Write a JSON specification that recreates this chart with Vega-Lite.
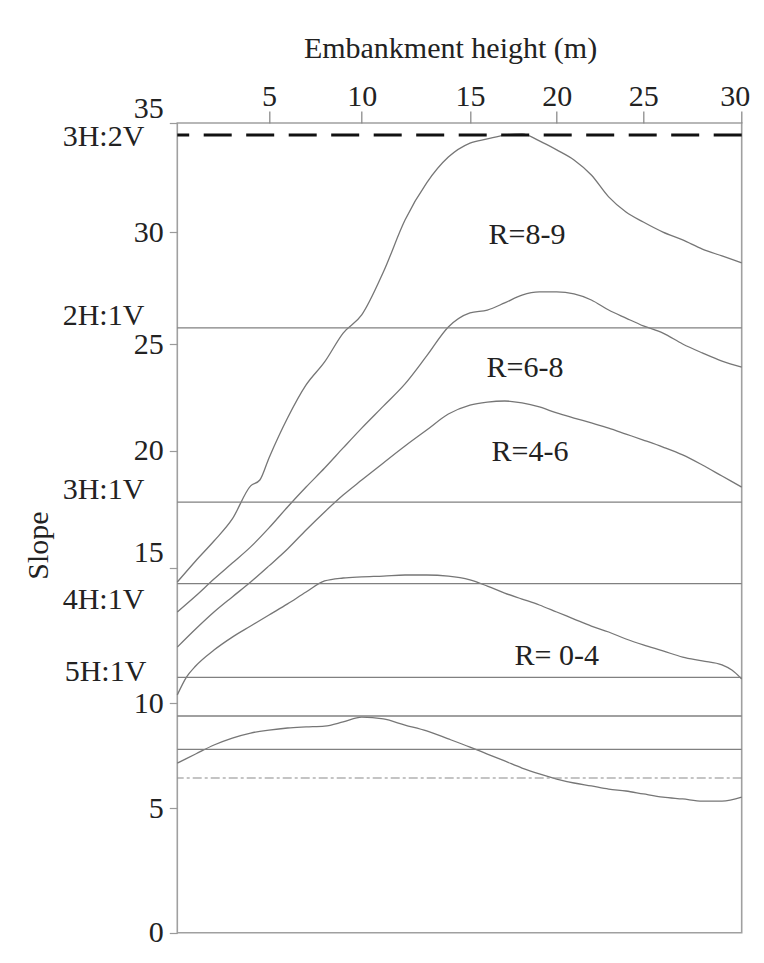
{
  "$schema": "https://vega.github.io/schema/vega-lite/v6.json",
  "width": 564.4,
  "height": 809.7,
  "autosize": "none",
  "padding": {"left": 177.3, "top": 123, "right": 22.3, "bottom": 30.3},
  "background": "white",
  "config": {
    "font": "Liberation Serif",
    "view": {"stroke": "#a0a0a0", "strokeWidth": 1.6}
  },
  "datasets": {
    "boundaries": [
      {"boundary": "R=9", "height": 0, "slope": 14.48}, {"boundary": "R=9", "height": 1, "slope": 15.30},
      {"boundary": "R=9", "height": 2, "slope": 16.15}, {"boundary": "R=9", "height": 3, "slope": 17.09},
      {"boundary": "R=9", "height": 4, "slope": 18.50}, {"boundary": "R=9", "height": 4.5, "slope": 18.75},
      {"boundary": "R=9", "height": 5, "slope": 19.69}, {"boundary": "R=9", "height": 6, "slope": 21.53},
      {"boundary": "R=9", "height": 7, "slope": 23.08}, {"boundary": "R=9", "height": 8, "slope": 24.16},
      {"boundary": "R=9", "height": 9, "slope": 25.49}, {"boundary": "R=9", "height": 10, "slope": 26.30},
      {"boundary": "R=9", "height": 11, "slope": 28.22}, {"boundary": "R=9", "height": 12, "slope": 30.56},
      {"boundary": "R=9", "height": 13, "slope": 32.26}, {"boundary": "R=9", "height": 14, "slope": 33.44},
      {"boundary": "R=9", "height": 15, "slope": 34.08}, {"boundary": "R=9", "height": 16, "slope": 34.27},
      {"boundary": "R=9", "height": 17, "slope": 34.45}, {"boundary": "R=9", "height": 18, "slope": 34.50},
      {"boundary": "R=9", "height": 19, "slope": 34.18}, {"boundary": "R=9", "height": 20, "slope": 33.77},
      {"boundary": "R=9", "height": 21, "slope": 33.31}, {"boundary": "R=9", "height": 22, "slope": 32.62},
      {"boundary": "R=9", "height": 23, "slope": 31.62}, {"boundary": "R=9", "height": 24, "slope": 30.93},
      {"boundary": "R=9", "height": 25, "slope": 30.47}, {"boundary": "R=9", "height": 26, "slope": 30.01},
      {"boundary": "R=9", "height": 27, "slope": 29.66}, {"boundary": "R=9", "height": 28, "slope": 29.25},
      {"boundary": "R=9", "height": 29, "slope": 28.94}, {"boundary": "R=9", "height": 30, "slope": 28.63},

      {"boundary": "R=8", "height": 0, "slope": 13.37}, {"boundary": "R=8", "height": 1, "slope": 13.96},
      {"boundary": "R=8", "height": 2, "slope": 14.59}, {"boundary": "R=8", "height": 3, "slope": 15.21},
      {"boundary": "R=8", "height": 4, "slope": 15.90}, {"boundary": "R=8", "height": 5, "slope": 16.71},
      {"boundary": "R=8", "height": 6, "slope": 17.60}, {"boundary": "R=8", "height": 7, "slope": 18.45},
      {"boundary": "R=8", "height": 8, "slope": 19.26}, {"boundary": "R=8", "height": 9, "slope": 20.13},
      {"boundary": "R=8", "height": 10, "slope": 21.06}, {"boundary": "R=8", "height": 11, "slope": 22.09},
      {"boundary": "R=8", "height": 12, "slope": 23.13}, {"boundary": "R=8", "height": 13, "slope": 24.44},
      {"boundary": "R=8", "height": 14, "slope": 25.76}, {"boundary": "R=8", "height": 15, "slope": 26.39},
      {"boundary": "R=8", "height": 16, "slope": 26.52}, {"boundary": "R=8", "height": 17, "slope": 26.84},
      {"boundary": "R=8", "height": 18, "slope": 27.19}, {"boundary": "R=8", "height": 19, "slope": 27.33},
      {"boundary": "R=8", "height": 20, "slope": 27.33}, {"boundary": "R=8", "height": 21, "slope": 27.24},
      {"boundary": "R=8", "height": 22, "slope": 26.97}, {"boundary": "R=8", "height": 23, "slope": 26.52},
      {"boundary": "R=8", "height": 24, "slope": 26.16}, {"boundary": "R=8", "height": 25, "slope": 25.81},
      {"boundary": "R=8", "height": 26, "slope": 25.49}, {"boundary": "R=8", "height": 27, "slope": 25.00},
      {"boundary": "R=8", "height": 28, "slope": 24.58}, {"boundary": "R=8", "height": 29, "slope": 24.20},
      {"boundary": "R=8", "height": 30, "slope": 23.92},

      {"boundary": "R=6", "height": 0, "slope": 12.07}, {"boundary": "R=6", "height": 1, "slope": 12.74},
      {"boundary": "R=6", "height": 2, "slope": 13.37}, {"boundary": "R=6", "height": 3, "slope": 13.93},
      {"boundary": "R=6", "height": 4, "slope": 14.48}, {"boundary": "R=6", "height": 5, "slope": 15.09},
      {"boundary": "R=6", "height": 6, "slope": 15.81}, {"boundary": "R=6", "height": 7, "slope": 16.62},
      {"boundary": "R=6", "height": 8, "slope": 17.39}, {"boundary": "R=6", "height": 9, "slope": 18.11},
      {"boundary": "R=6", "height": 10, "slope": 18.75}, {"boundary": "R=6", "height": 11, "slope": 19.48},
      {"boundary": "R=6", "height": 12, "slope": 20.22}, {"boundary": "R=6", "height": 13, "slope": 20.97},
      {"boundary": "R=6", "height": 14, "slope": 21.72}, {"boundary": "R=6", "height": 15, "slope": 22.14},
      {"boundary": "R=6", "height": 16, "slope": 22.28}, {"boundary": "R=6", "height": 17, "slope": 22.33},
      {"boundary": "R=6", "height": 18, "slope": 22.24}, {"boundary": "R=6", "height": 19, "slope": 22.05},
      {"boundary": "R=6", "height": 20, "slope": 21.77}, {"boundary": "R=6", "height": 21, "slope": 21.53},
      {"boundary": "R=6", "height": 22, "slope": 21.30}, {"boundary": "R=6", "height": 23, "slope": 21.06},
      {"boundary": "R=6", "height": 24, "slope": 20.78}, {"boundary": "R=6", "height": 25, "slope": 20.50},
      {"boundary": "R=6", "height": 26, "slope": 20.17}, {"boundary": "R=6", "height": 27, "slope": 19.82},
      {"boundary": "R=6", "height": 28, "slope": 19.39}, {"boundary": "R=6", "height": 29, "slope": 18.92},
      {"boundary": "R=6", "height": 30, "slope": 18.45},

      {"boundary": "R=4", "height": 0, "slope": 10.30}, {"boundary": "R=4", "height": 0.5, "slope": 10.96},
      {"boundary": "R=4", "height": 1, "slope": 11.37}, {"boundary": "R=4", "height": 2, "slope": 11.96},
      {"boundary": "R=4", "height": 3, "slope": 12.44}, {"boundary": "R=4", "height": 4, "slope": 12.85},
      {"boundary": "R=4", "height": 5, "slope": 13.26}, {"boundary": "R=4", "height": 6, "slope": 13.67},
      {"boundary": "R=4", "height": 7, "slope": 14.11}, {"boundary": "R=4", "height": 8, "slope": 14.52},
      {"boundary": "R=4", "height": 9, "slope": 14.63}, {"boundary": "R=4", "height": 10, "slope": 14.67},
      {"boundary": "R=4", "height": 11, "slope": 14.70}, {"boundary": "R=4", "height": 12, "slope": 14.74},
      {"boundary": "R=4", "height": 13, "slope": 14.74}, {"boundary": "R=4", "height": 14, "slope": 14.70},
      {"boundary": "R=4", "height": 15, "slope": 14.56}, {"boundary": "R=4", "height": 16, "slope": 14.33},
      {"boundary": "R=4", "height": 17, "slope": 14.07}, {"boundary": "R=4", "height": 18, "slope": 13.85},
      {"boundary": "R=4", "height": 19, "slope": 13.63}, {"boundary": "R=4", "height": 20, "slope": 13.37},
      {"boundary": "R=4", "height": 21, "slope": 13.11}, {"boundary": "R=4", "height": 22, "slope": 12.85},
      {"boundary": "R=4", "height": 23, "slope": 12.63}, {"boundary": "R=4", "height": 24, "slope": 12.37},
      {"boundary": "R=4", "height": 25, "slope": 12.15}, {"boundary": "R=4", "height": 26, "slope": 11.93},
      {"boundary": "R=4", "height": 27, "slope": 11.70}, {"boundary": "R=4", "height": 28, "slope": 11.56},
      {"boundary": "R=4", "height": 29, "slope": 11.41}, {"boundary": "R=4", "height": 29.5, "slope": 11.22},
      {"boundary": "R=4", "height": 30, "slope": 10.89},

      {"boundary": "R=0", "height": 0, "slope": 7.14}, {"boundary": "R=0", "height": 1, "slope": 7.57},
      {"boundary": "R=0", "height": 2, "slope": 8.00}, {"boundary": "R=0", "height": 3, "slope": 8.33},
      {"boundary": "R=0", "height": 4, "slope": 8.57}, {"boundary": "R=0", "height": 5, "slope": 8.71},
      {"boundary": "R=0", "height": 6, "slope": 8.81}, {"boundary": "R=0", "height": 7, "slope": 8.86},
      {"boundary": "R=0", "height": 8, "slope": 8.90}, {"boundary": "R=0", "height": 9, "slope": 9.10},
      {"boundary": "R=0", "height": 10, "slope": 9.33}, {"boundary": "R=0", "height": 11, "slope": 9.24},
      {"boundary": "R=0", "height": 12, "slope": 8.95}, {"boundary": "R=0", "height": 13, "slope": 8.67},
      {"boundary": "R=0", "height": 14, "slope": 8.29}, {"boundary": "R=0", "height": 15, "slope": 7.90},
      {"boundary": "R=0", "height": 16, "slope": 7.57}, {"boundary": "R=0", "height": 17, "slope": 7.24},
      {"boundary": "R=0", "height": 18, "slope": 6.90}, {"boundary": "R=0", "height": 19, "slope": 6.62},
      {"boundary": "R=0", "height": 20, "slope": 6.38}, {"boundary": "R=0", "height": 21, "slope": 6.19},
      {"boundary": "R=0", "height": 22, "slope": 6.05}, {"boundary": "R=0", "height": 23, "slope": 5.90},
      {"boundary": "R=0", "height": 24, "slope": 5.81}, {"boundary": "R=0", "height": 25, "slope": 5.67},
      {"boundary": "R=0", "height": 26, "slope": 5.52}, {"boundary": "R=0", "height": 27, "slope": 5.43},
      {"boundary": "R=0", "height": 28, "slope": 5.33}, {"boundary": "R=0", "height": 29, "slope": 5.33},
      {"boundary": "R=0", "height": 30, "slope": 5.52}
    ],
    "ratios": [
      {"ratio": "3H:2V", "slope": 34.45, "kind": "limit"},
      {"ratio": "2H:1V", "slope": 25.72, "kind": "ratio"},
      {"ratio": "3H:1V", "slope": 17.81, "kind": "ratio"},
      {"ratio": "4H:1V", "slope": 14.42, "kind": "ratio"},
      {"ratio": "5H:1V", "slope": 10.95, "kind": "ratio"},
      {"ratio": "", "slope": 9.38, "kind": "ratio"},
      {"ratio": "", "slope": 7.79, "kind": "ratio"},
      {"ratio": "", "slope": 6.43, "kind": "lower"}
    ],
    "zones": [
      {"zone": "R=8-9", "height": 18.29, "slope": 29.88},
      {"zone": "R=6-8", "height": 18.17, "slope": 23.88},
      {"zone": "R=4-6", "height": 18.46, "slope": 19.94},
      {"zone": "R= 0-4", "height": 20.0, "slope": 11.74}
    ]
  },
  "layer": [
    {
      "data": {"name": "boundaries"},
      "mark": {"type": "line", "interpolate": "monotone", "stroke": "#767676", "strokeWidth": 1.3},
      "encoding": {
        "x": {
          "field": "height", "type": "quantitative", "title": "Embankment height (m)",
          "scale": {"domain": [0, 5, 10, 15, 20, 25, 30], "range": [0, 91.7, 184.4, 292.7, 379.4, 466, 564.4], "nice": false, "zero": false},
          "axis": {
            "orient": "top", "values": [5, 10, 15, 20, 25, 30], "domain": false, "grid": false,
            "tickSize": 12, "tickColor": "#8c8c8c", "tickWidth": 1.3,
            "labelFont": "Liberation Serif", "labelFontSize": 30, "labelColor": "#222222",
            "labelBaseline": "alphabetic", "labelPadding": 6, "labelFlush": false, "labelOverlap": false,
            "labelOffset": {"condition": {"test": "datum.value === 30", "value": -7}, "value": 0},
            "titleFont": "Liberation Serif", "titleFontSize": 30, "titleFontWeight": "normal", "titleColor": "#222222",
            "titleX": 272.7, "titleY": -66, "titleBaseline": "alphabetic", "titleAlign": "center"
          }
        },
        "y": {
          "field": "slope", "type": "quantitative", "title": "Slope",
          "scale": {"domain": [0, 5, 10, 15, 20, 25, 30, 35], "range": [809.7, 685, 580, 445, 327.7, 221, 109.3, 0], "nice": false, "zero": false},
          "axis": {
            "orient": "left", "values": [0, 5, 10, 15, 20, 25, 30, 35], "domain": false, "grid": false,
            "tickSize": 8, "tickColor": "#9a9a9a", "tickWidth": 1.2,
            "labelFont": "Liberation Serif", "labelFontSize": 30, "labelColor": "#222222",
            "labelPadding": 6, "labelFlush": false, "labelOverlap": false, "labelBaseline": "middle",
            "labelOffset": {"condition": [{"test": "datum.value === 35", "value": -15}, {"test": "datum.value === 15", "value": -16}], "value": 0},
            "titleFont": "Liberation Serif", "titleFontSize": 30, "titleFontWeight": "normal", "titleColor": "#222222",
            "titleAngle": -90, "titleX": -130, "titleY": 422, "titleBaseline": "alphabetic", "titleAlign": "center"
          }
        },
        "detail": {"field": "boundary", "type": "nominal"}
      }
    },
    {
      "data": {"name": "ratios"},
      "transform": [{"filter": "datum.kind === 'ratio'"}],
      "mark": {"type": "rule", "stroke": "#808080", "strokeWidth": 1.3},
      "encoding": {"y": {"field": "slope", "type": "quantitative", "title": "Slope"}}
    },
    {
      "data": {"name": "ratios"},
      "transform": [{"filter": "datum.kind === 'lower'"}],
      "mark": {"type": "rule", "stroke": "#8a8a8a", "strokeWidth": 1.1, "strokeDash": [9, 3, 3, 3]},
      "encoding": {"y": {"field": "slope", "type": "quantitative", "title": "Slope"}}
    },
    {
      "data": {"name": "ratios"},
      "transform": [{"filter": "datum.kind === 'limit'"}],
      "mark": {"type": "rule", "stroke": "#111111", "strokeWidth": 3, "strokeDash": [28, 14.5]},
      "encoding": {"y": {"field": "slope", "type": "quantitative", "title": "Slope"}}
    },
    {
      "data": {"name": "ratios"},
      "transform": [{"filter": {"field": "ratio", "oneOf": ["3H:2V"]}}],
      "mark": {"type": "text", "align": "right", "baseline": "middle", "dx": -33, "dy": 2, "font": "Liberation Serif", "fontSize": 30, "fill": "#222222", "clip": false},
      "encoding": {
        "x": {"datum": 0, "type": "quantitative"},
        "y": {"field": "slope", "type": "quantitative", "title": "Slope"},
        "text": {"field": "ratio"}
      }
    },
    {
      "data": {"name": "ratios"},
      "transform": [{"filter": {"field": "ratio", "oneOf": ["5H:1V"]}}],
      "mark": {"type": "text", "align": "right", "baseline": "middle", "dx": -31, "dy": -5, "font": "Liberation Serif", "fontSize": 30, "fill": "#222222", "clip": false},
      "encoding": {
        "x": {"datum": 0, "type": "quantitative"},
        "y": {"field": "slope", "type": "quantitative", "title": "Slope"},
        "text": {"field": "ratio"}
      }
    },
    {
      "data": {"name": "ratios"},
      "transform": [{"filter": {"field": "ratio", "oneOf": ["2H:1V", "3H:1V"]}}],
      "mark": {"type": "text", "align": "right", "baseline": "middle", "dx": -33, "dy": -12, "font": "Liberation Serif", "fontSize": 30, "fill": "#222222", "clip": false},
      "encoding": {
        "x": {"datum": 0, "type": "quantitative"},
        "y": {"field": "slope", "type": "quantitative", "title": "Slope"},
        "text": {"field": "ratio"}
      }
    },
    {
      "data": {"name": "ratios"},
      "transform": [{"filter": {"field": "ratio", "oneOf": ["4H:1V"]}}],
      "mark": {"type": "text", "align": "right", "baseline": "middle", "dx": -33, "dy": 16, "font": "Liberation Serif", "fontSize": 30, "fill": "#222222", "clip": false},
      "encoding": {
        "x": {"datum": 0, "type": "quantitative"},
        "y": {"field": "slope", "type": "quantitative", "title": "Slope"},
        "text": {"field": "ratio"}
      }
    },
    {
      "data": {"name": "zones"},
      "mark": {"type": "text", "align": "center", "baseline": "middle", "font": "Liberation Serif", "fontSize": 30, "fill": "#222222"},
      "encoding": {
        "x": {"field": "height", "type": "quantitative", "title": "Embankment height (m)"},
        "y": {"field": "slope", "type": "quantitative", "title": "Slope"},
        "text": {"field": "zone"}
      }
    }
  ]
}
